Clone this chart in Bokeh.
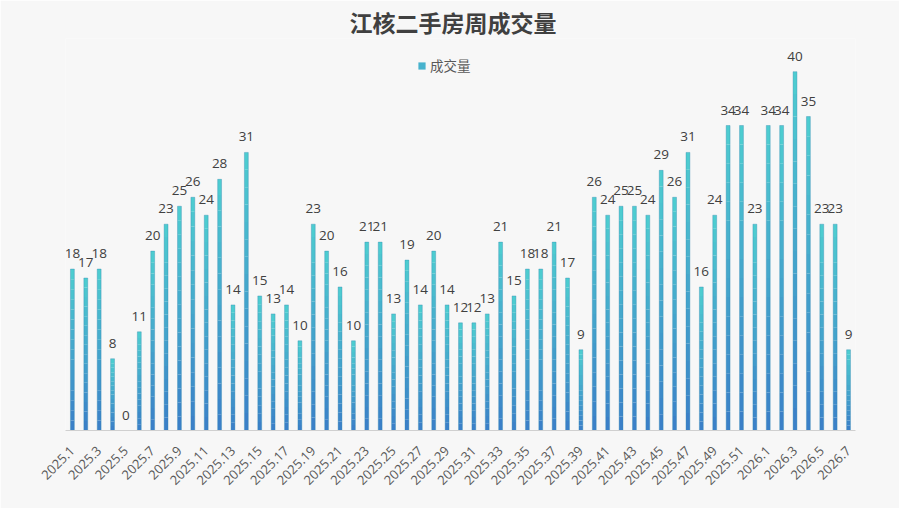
from bokeh.plotting import figure
from bokeh.models import ColumnDataSource, Range1d, FixedTicker, Legend, LegendItem
from bokeh.embed import file_html
from bokeh.resources import INLINE
from bokeh.core.properties import value

weeks = ["2025.1", "2025.2", "2025.3", "2025.4", "2025.5", "2025.6", "2025.7", "2025.8",
         "2025.9", "2025.10", "2025.11", "2025.12", "2025.13", "2025.14", "2025.15", "2025.16",
         "2025.17", "2025.18", "2025.19", "2025.20", "2025.21", "2025.22", "2025.23", "2025.24",
         "2025.25", "2025.26", "2025.27", "2025.28", "2025.29", "2025.30", "2025.31", "2025.32",
         "2025.33", "2025.34", "2025.35", "2025.36", "2025.37", "2025.38", "2025.39", "2025.40",
         "2025.41", "2025.42", "2025.43", "2025.44", "2025.45", "2025.46", "2025.47", "2025.48",
         "2025.49", "2025.50", "2025.51", "2025.52", "2026.1", "2026.2", "2026.3", "2026.4",
         "2026.5", "2026.6", "2026.7"]
volume = [18, 17, 18, 8, 0, 11, 20, 23, 25, 26, 24, 28, 14, 31, 15, 13, 14, 10, 23, 20,
          16, 10, 21, 21, 13, 19, 14, 20, 14, 12, 12, 13, 21, 15, 18, 18, 21, 17, 9, 26,
          24, 25, 25, 24, 29, 26, 31, 16, 24, 34, 34, 23, 34, 34, 40, 35, 23, 23, 9]

TITLE = "江核二手房周成交量"
SERIES = "成交量"

pos = list(range(1, len(weeks) + 1))

# gradient (style only): each bar split into stacked slices of its own height
N = 16
c_bot = (58, 126, 200)
c_top = (78, 206, 208)
gx, gb, gt, gc = [], [], [], []
for x, v in zip(pos, volume):
    for k in range(N):
        f = (k + 0.5) / N
        col = tuple(int(round(c_bot[j] + (c_top[j] - c_bot[j]) * f)) for j in range(3))
        gx.append(x)
        gb.append(v * k / N)
        gt.append(v * (k + 1) / N)
        gc.append("#%02x%02x%02x" % col)
seg = ColumnDataSource(dict(x=gx, bottom=gb, top=gt, color=gc))
src = ColumnDataSource(dict(x=pos, top=volume, label=[str(v) for v in volume]))

p = figure(width=899, height=508, output_backend="svg", toolbar_location=None,
           x_range=Range1d(0.484, 59.52), y_range=Range1d(0, 43.7),
           min_border_left=65, min_border_right=44, min_border_bottom=78, min_border_top=38)
p.background_fill_color = "#f7f7f7"
p.border_fill_color = "#f7f7f7"
p.outline_line_color = None
p.grid.visible = False
p.yaxis.visible = False

p.title.text = TITLE
p.title.align = "left"
p.title.offset = 284
p.title.text_font = "Noto Sans CJK SC"
p.title.text_font_size = "23px"
p.title.text_font_style = "bold"
p.title.text_color = "#404040"
p.title.standoff = 0

r = p.vbar(x="x", bottom="bottom", top="top", width=0.29, source=seg,
           fill_color="color", line_color=None)
p.vbar(x="x", top="top", width=0.29, source=src, fill_color=None,
       line_color="#2f86b0", line_width=0.6, line_alpha=0.6)

p.text(x="x", y="top", text="label", source=src, text_align="center",
       text_baseline="bottom", y_offset=-11, text_font=value("Open Sans"),
       text_font_size="13.5px", text_color="#404040")

xa = p.xaxis[0]
xa.ticker = FixedTicker(ticks=pos[::2])
xa.major_label_overrides = {x: w for x, w in zip(pos, weeks)}
xa.major_label_orientation = 0.785398
xa.major_label_text_font = "Open Sans"
xa.major_label_text_font_size = "13px"
xa.major_label_text_color = "#595959"
xa.major_label_standoff = 12
xa.major_tick_line_color = None
xa.minor_tick_line_color = None
xa.axis_line_color = "#d0d0d0"

legend = Legend(items=[LegendItem(label=SERIES, renderers=[r], index=N * 55 + 10)],
                location=(352, 355), orientation="horizontal",
                glyph_width=9, glyph_height=9, label_standoff=4,
                label_text_font="Noto Sans CJK SC", label_text_font_size="13.5px",
                label_text_color="#595959", background_fill_alpha=0,
                border_line_color=None, padding=2, margin=0)
p.add_layout(legend, "center")

open("out.html", "w").write(file_html(p, INLINE))
